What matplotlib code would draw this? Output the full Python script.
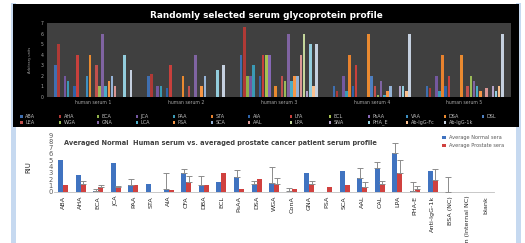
import matplotlib
matplotlib.use('Agg')
import matplotlib.pyplot as plt
import numpy as np
from matplotlib.patches import Rectangle

# ---------------- data: top chart ----------------
groups = ['human serum 1', 'human serum 2', 'human serum 3', 'human serum 4', 'human serum 5']
lectins = ['ABA', 'AHA', 'ECA', 'JCA', 'PAA', 'STA', 'AIA', 'LFA', 'ECL', 'PsAA', 'VAA', 'DSA', 'DSL',
           'LEA', 'WGA', 'GNA', 'LCA', 'PSA', 'SCA', 'AAL', 'LPA', 'SNA', 'PHA_E', 'Ab-IgG-Fc', 'Ab-IgG-1k']
serum1 = [3.0, 5.0, 0.0, 2.0, 1.5, 0.0, 1.0, 4.0, 0.0, 0.0, 2.0, 4.0, 0.0,
          3.0, 1.0, 6.0, 1.0, 1.5, 2.0, 1.0, 0.0, 0.0, 4.0, 0.0, 2.5]
serum2 = [2.0, 2.2, 0.0, 1.0, 1.0, 0.0, 0.8, 3.0, 0.0, 0.0, 0.0, 2.0, 0.0,
          1.0, 0.0, 4.0, 0.0, 1.0, 2.0, 0.0, 0.0, 0.0, 2.5, 0.0, 3.0]
serum3 = [4.0, 6.6, 2.0, 2.0, 3.0, 0.0, 2.0, 4.0, 4.0, 4.0, 0.0, 1.0, 0.0,
          2.0, 1.5, 6.0, 1.5, 2.0, 2.0, 4.0, 6.0, 0.5, 5.0, 1.0, 5.0]
serum4 = [1.0, 0.5, 0.0, 2.0, 0.5, 4.0, 1.0, 3.0, 0.0, 0.0, 0.0, 6.0, 2.0,
          1.0, 0.2, 1.5, 0.2, 0.5, 1.0, 0.0, 0.0, 1.0, 1.0, 0.5, 6.0]
serum5 = [1.0, 0.8, 0.0, 2.0, 0.5, 4.0, 1.0, 2.0, 0.0, 0.0, 0.0, 4.0, 0.0,
          1.0, 2.0, 1.5, 1.0, 0.5, 0.0, 0.8, 0.0, 1.0, 0.5, 1.0, 6.0]
series_colors = ['#3F6FB0', '#B03A36', '#8FB04A', '#7458A0', '#3A9AB5', '#E8822E', '#2E63A8',
                 '#C8403C', '#A6C24E', '#8768B6', '#3E8FC0', '#EA8A30', '#4E7FC0',
                 '#C0504D', '#9BBB59', '#8064A2', '#4BACC6', '#F79646', '#95B3D7', '#D99694',
                 '#C3D69B', '#B3A2C7', '#93CDDD', '#FAC090', '#C5D0DF']

# ---------------- data: bottom chart ----------------
categories = ['ABA', 'AHA', 'ECA', 'JCA', 'PAA', 'STA', 'AIA', 'CFA', 'DBA', 'ECL', 'PsAA', 'DSA',
              'WGA', 'ConA', 'GNA', 'PSA', 'SCA', 'AAL', 'CAL', 'LPA', 'PHA-E', 'Anti-IgG-1k',
              'BSA (NC)', 'Casein (Internal NC)', 'blank']
normal = [5.0, 2.7, 0.05, 4.5, 1.0, 1.3, 0.5, 2.95, 1.0, 1.5, 2.4, 1.2, 1.4, 0.05, 3.0, 0.0,
          3.3, 2.2, 3.7, 6.2, 0.05, 3.3, 0.0, 0.0, 0.0]
normal_err = [0, 0, 0.45, 0, 1.0, 0, 2.5, 0.6, 1.5, 0, 1.1, 0.5, 2.6, 0.55, 0, 0,
              0, 1.6, 1.0, 1.6, 1.45, 0, 2.3, 0, 0]
prostate = [1.0, 1.2, 0.8, 0.7, 1.0, 0.0, 0.2, 1.6, 1.0, 3.0, 0.5, 2.0, 1.3, 0.5, 1.2, 0.8,
            1.0, 0.8, 1.2, 2.9, 0.5, 1.9, 0.0, 0.0, 0.0]
prostate_err = [0, 0.5, 0.3, 0.25, 0, 0, 0, 0.9, 0, 0, 0, 0, 0.8, 0, 0.5, 0,
                0, 0.8, 0.5, 2.1, 0.4, 1.7, 0, 0, 0]
legend_bottom = ['Average Normal sera', 'Average Prostate sera']

W, H = 525, 243
fig = plt.figure(figsize=(W / 100, H / 100), dpi=100)
fig.patch.set_facecolor('white')


def fx(px):
    return px / W


def fy(py):
    return 1 - py / H


def frect(x0, y0, x1, y1, color, z=0):
    fig.patches.append(Rectangle((fx(x0), fy(y1)), fx(x1) - fx(x0), fy(y0) - fy(y1),
                                 transform=fig.transFigure, color=color, zorder=z, lw=0))


# frame
frect(11, 3, 16, 243, '#C6D9F0')
frect(516, 3, 521, 243, '#C6D9F0')
frect(13, 4, 519, 127, '#000000', z=1)

# ---------------- top chart ----------------
ax1 = fig.add_axes([fx(46.7), fy(96.7), fx(511) - fx(46.7), fy(23) - fy(96.7)])
ax1.set_zorder(5)
ax1.set_facecolor('#404040')
top_data = np.array([serum1, serum2, serum3, serum4, serum5]).T
xg = np.arange(len(groups))
bw = 0.0338
for i, name in enumerate(lectins):
    ax1.bar(xg + (i - 12) * bw, top_data[i], bw * 0.82, color=series_colors[i], lw=0)
ax1.set_xlim(-0.5, 4.5)
ax1.set_ylim(0, 7)
ax1.set_yticks(range(0, 8))
ax1.set_xticks(xg)
ax1.set_xticklabels(groups)
ax1.tick_params(length=0, labelsize=3.3, colors='#A6A6A6', pad=2)
ax1.tick_params(axis='x', pad=2.5)
for s in ax1.spines.values():
    s.set_visible(False)
fig.text(fx(30), fy(60), 'Arbitrary units', rotation=90, fontsize=2.6, color='#A6A6A6',
         ha='center', va='center', zorder=6)
fig.text(fx(266), fy(15), 'Randomly selected serum glycoprotein profile', fontsize=6.4,
         fontweight='bold', color='white', ha='center', va='center', zorder=6)

# top legend (13 + 12 entries in two rows)
col_x = [21.7, 60, 98, 137, 174, 212, 249, 291, 330, 369, 407, 445, 483]
for i, name in enumerate(lectins):
    r, c = (0, i) if i < 13 else (1, i - 13)
    yy = 116.5 if r == 0 else 122.5
    frect(col_x[c] - 1.3, yy - 1.2, col_x[c] + 1.3, yy + 1.2, series_colors[i], z=6)
    fig.text(fx(col_x[c] + 3.5), fy(yy), name, fontsize=3.5, color='#BFBFBF',
             ha='left', va='center', zorder=6)

# ---------------- bottom chart ----------------
ax2 = fig.add_axes([fx(54.2), fy(191.7), fx(494.2) - fx(54.2), fy(135) - fy(191.7)])
ax2.set_zorder(5)
ax2.set_facecolor('none')
xc = np.arange(len(categories))
bw2 = 0.28
ax2.bar(xc - bw2 / 2, normal, bw2, color='#4073C0', lw=0, zorder=2)
ax2.bar(xc + bw2 / 2, prostate, bw2, color='#D0413F', lw=0, zorder=2)
ne = np.array(normal_err)
pe = np.array(prostate_err)
mn = ne > 0
mp = pe > 0
ax2.errorbar(xc[mn] - bw2 / 2, np.array(normal)[mn], yerr=[np.zeros(mn.sum()), ne[mn]],
             fmt='none', ecolor='#8C8C8C', elinewidth=0.7, capsize=2, capthick=0.7, zorder=3)
ax2.errorbar(xc[mp] + bw2 / 2, np.array(prostate)[mp], yerr=[np.zeros(mp.sum()), pe[mp]],
             fmt='none', ecolor='#8C8C8C', elinewidth=0.7, capsize=2, capthick=0.7, zorder=3)
ax2.set_xlim(-0.5, len(categories) - 0.5)
ax2.set_ylim(0, 9)
ax2.set_yticks(range(0, 10))
ax2.set_xticks(xc)
ax2.set_xticklabels(categories, rotation=90, fontsize=4.6,
                    family=['Liberation Sans Narrow', 'DejaVu Sans'], color='#262626')
ax2.tick_params(axis='y', length=0, labelsize=4.9, colors='#595959', pad=1)
ax2.tick_params(axis='x', length=0, pad=3)
for k in ['top', 'right', 'left']:
    ax2.spines[k].set_visible(False)
ax2.spines['bottom'].set_color('#BFBFBF')
ax2.spines['bottom'].set_linewidth(0.6)
fig.text(fx(28), fy(167), 'RIU', rotation=90, fontsize=5, color='#262626',
         ha='center', va='center')
fig.text(fx(64), fy(143), 'Averaged Normal  Human serum vs. averaged prostate cancer patient serum profile',
         fontsize=4.8, fontweight='bold', color='#404040', ha='left', va='center', zorder=6)
for j, (lab, col) in enumerate(zip(legend_bottom, ['#4073C0', '#D0413F'])):
    yy = 137.5 + j * 8
    frect(442, yy - 1.3, 446, yy + 1.3, col, z=6)
    fig.text(fx(449), fy(yy), lab, fontsize=3.6, color='#595959', ha='left', va='center', zorder=6)

fig.savefig('out.png', dpi=100, facecolor='white')
